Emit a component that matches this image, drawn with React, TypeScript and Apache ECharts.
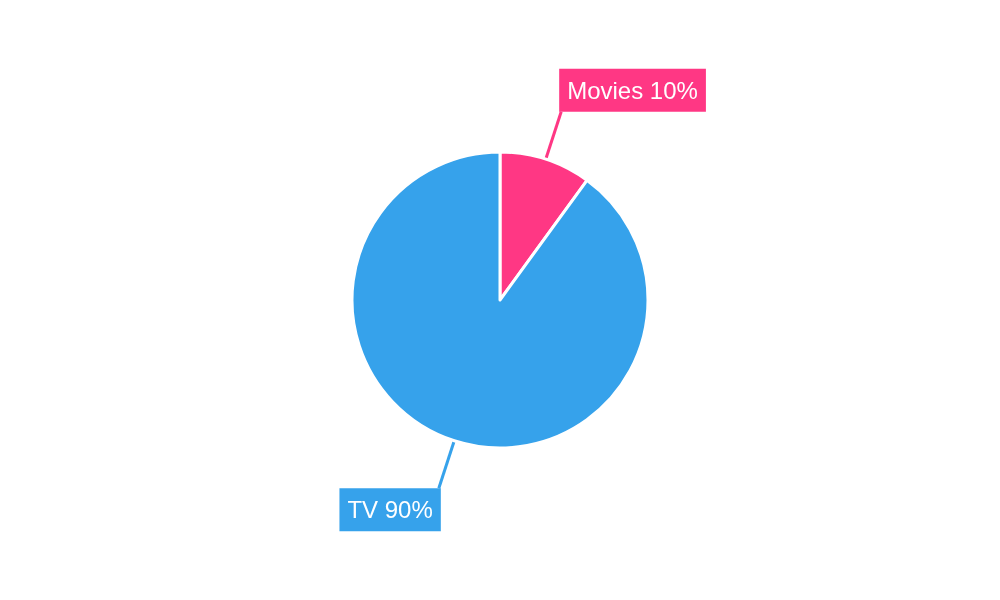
import React, { useEffect, useRef } from 'react';
import * as echarts from 'echarts';

const categories = ['Movies', 'TV'];
const shares = [10, 90];
const colors = ['#ff3784', '#36a2eb'];

const App: React.FC = () => {
  const chartRef = useRef<HTMLDivElement>(null);

  useEffect(() => {
    if (!chartRef.current) return;
    const chart = echarts.init(chartRef.current, null, { renderer: 'svg' });

    const option: echarts.EChartsOption = {
      animation: false,
      series: [
        {
          type: 'pie',
          center: [500, 300],
          radius: 148,
          startAngle: 90,
          clockwise: true,
          data: categories.map((name, i) => ({
            name,
            value: shares[i],
            itemStyle: { color: colors[i] },
            label: { backgroundColor: colors[i] },
          })),
          itemStyle: { borderColor: '#fff', borderWidth: 3 },
          label: {
            show: true,
            position: 'outside',
            formatter: '{b} {d}%',
            color: '#fff',
            fontFamily: 'Liberation Sans, Arial, sans-serif',
            fontSize: 24,
            lineHeight: 25,
            padding: [9, 8],
          },
          labelLine: {
            show: true,
            length: 50,
            length2: 0,
            smooth: false,
            lineStyle: { width: 3 },
          },
          labelLayout: (params: any) => {
            const pts = params.labelLinePoints;
            if (!pts) return {};
            const start = pts[0];
            const end = pts[pts.length - 1];
            const right = params.dataIndex === 0;
            return {
              x: end[0] + (right ? -2 : 2),
              y: end[1],
              align: right ? 'left' : 'right',
              verticalAlign: right ? 'bottom' : 'top',
              labelLinePoints: [start, end],
            };
          },
        },
      ],
    };

    chart.setOption(option);
    return () => {
      chart.dispose();
    };
  }, []);

  return (
    <div
      ref={chartRef}
      style={{ position: 'fixed', left: 0, top: 0, width: '1000px', height: '600px' }}
    />
  );
};

export default App;
